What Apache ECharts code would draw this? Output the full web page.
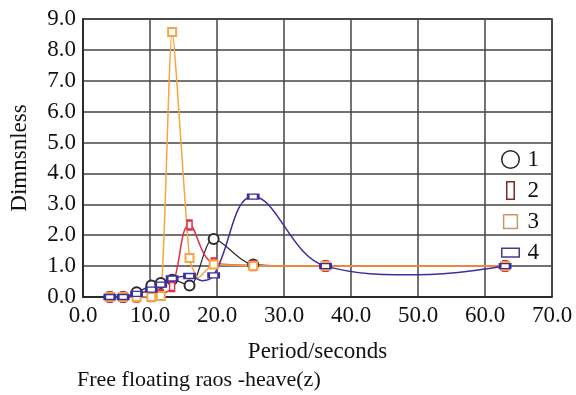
<!DOCTYPE html>
<html>
<head>
<meta charset="utf-8">
<script src="https://cdn.jsdelivr.net/npm/echarts@6/dist/echarts.min.js"></script>
<style>
    html, body { margin: 0; padding: 0; background: #fff; }
    #chart { width: 576px; height: 395px; }
</style>
</head>
<body>
<div id="chart"></div>
<script>
// periods (s) where the RAOs were sampled
const periods = [4.0, 6.0, 8.0, 10.2, 11.6, 13.3, 15.9, 19.5, 25.4, 36.2, 63.0];

// heave RAO per case
const rao1 = [0.0, 0.0, 0.15, 0.37, 0.45, 0.56, 0.37, 1.88, 1.05, 1.00, 1.00];
const rao2 = [0.0, 0.0, 0.0, 0.02, 0.07, 0.34, 2.33, 1.10, 1.02, 1.00, 1.00];
const rao3 = [0.0, 0.0, 0.0, 0.0, 0.03, 8.58, 1.26, 1.05, 1.00, 1.00, 1.00];
const rao4 = [0.0, 0.0, 0.10, 0.24, 0.40, 0.60, 0.68, 0.70, 3.25, 1.00, 1.00];

// extra points (dips between markers), no marker
const rao3Curve = [[17.2, 0.62]];
const rao4Curve = [[17.8, 0.53], [50.0, 0.72]];

const legendNames = ['1', '2', '3', '4'];
const xTicks = [0, 10, 20, 30, 40, 50, 60, 70];
const yTicks = [0, 1, 2, 3, 4, 5, 6, 7, 8, 9];

const FONT = "'Liberation Serif', 'Times New Roman', serif";
const colors = ['#2b2b2b', '#e0304a', '#f6a544', '#3b2f9e'];
const legendBorder = ['#222', '#7a2a2a', '#c89a6a', '#4a3a8e'];
// legend symbols are stretched into a 16x16 box, so every path spans that box
const BOX = 'M0,0 L0,0 M16,16 L16,16 ';
const legendIcons = [
    'path://' + BOX + 'M1,8 A7,7 0 1 1 15,8 A7,7 0 1 1 1,8 Z',
    'path://' + BOX + 'M5,1 L11,1 L11,15 L5,15 Z',
    'path://' + BOX + 'M2.5,2.5 L13.5,2.5 L13.5,13.5 L2.5,13.5 Z',
    'path://' + BOX + 'M1,4.5 L15,4.5 L15,11.5 L1,11.5 Z',
];

const toData = (vals, extra) => {
    const pts = periods.map((p, i) => ({ value: [p, vals[i]] }));
    (extra || []).forEach(e => pts.push({ value: e, symbol: 'none' }));
    return pts.sort((a, b) => a.value[0] - b.value[0]);
};

const chart = echarts.init(document.getElementById('chart'), null, { renderer: 'canvas' });

const option = {
    backgroundColor: '#fff',
    animation: false,
    textStyle: { fontFamily: FONT },
    title: {
        text: 'Free floating raos -heave(z)',
        left: 77,
        top: 369,
        padding: 0,
        textStyle: { fontFamily: FONT, fontSize: 22, fontWeight: 'normal', color: '#111' },
    },
    grid: {
        left: 83, right: 24, top: 19, bottom: 98,
        outerBoundsMode: 'none',
        containLabel: false,
        show: true, borderColor: '#222', borderWidth: 1.5, backgroundColor: '#fff',
    },
    legend: {
        orient: 'vertical',
        right: 32,
        top: 143,
        itemGap: 8,
        itemWidth: 24,
        itemHeight: 20,
        textStyle: { fontFamily: FONT, fontSize: 23, color: '#111' },
        data: legendNames.map((n, i) => ({
            name: n,
            icon: legendIcons[i],
            itemStyle: { color: 'rgba(255,255,255,0)', borderColor: legendBorder[i], borderWidth: 1.5 },
            lineStyle: { width: 0, opacity: 0 },
        })),
    },
    xAxis: {
        type: 'value',
        min: xTicks[0],
        max: xTicks[xTicks.length - 1],
        interval: 10,
        name: 'Period/seconds',
        nameLocation: 'middle',
        nameGap: 43,
        nameTextStyle: { fontFamily: FONT, fontSize: 23, color: '#111' },
        axisLine: { lineStyle: { color: '#222', width: 1.5 } },
        axisTick: { show: false },
        axisLabel: {
            fontFamily: FONT, fontSize: 23, color: '#111', margin: 7,
            formatter: v => v.toFixed(1),
        },
        splitLine: { lineStyle: { color: '#444', width: 1.5 } },
    },
    yAxis: {
        type: 'value',
        min: yTicks[0],
        max: yTicks[yTicks.length - 1],
        interval: 1,
        name: 'Dimnsnless',
        nameLocation: 'middle',
        nameGap: 52,
        nameTextStyle: { fontFamily: FONT, fontSize: 23, color: '#111' },
        axisLine: { lineStyle: { color: '#222', width: 1.5 } },
        axisTick: { show: false },
        axisLabel: {
            fontFamily: FONT, fontSize: 23, color: '#111', margin: 7,
            formatter: v => v.toFixed(1),
        },
        splitLine: { lineStyle: { color: '#444', width: 1.5 } },
    },
    series: [
        {
            name: '1', type: 'line', data: toData(rao1), smooth: 0.3,
            symbol: 'emptyCircle', symbolSize: 10,
            lineStyle: { color: colors[0], width: 1.2 },
            itemStyle: { color: colors[0], borderWidth: 1.2 },
        },
        {
            name: '2', type: 'line', data: toData(rao2), smooth: 0.4,
            symbol: 'emptyRect', symbolSize: [5, 9],
            lineStyle: { color: colors[1], width: 1.5 },
            itemStyle: { color: colors[1], borderWidth: 1.2 },
        },
        {
            name: '3', type: 'line', data: toData(rao3, rao3Curve), smooth: 0.2,
            symbol: 'emptyRect', symbolSize: 8,
            lineStyle: { color: colors[2], width: 1.5 },
            itemStyle: { color: colors[2], borderWidth: 1.2 },
        },
        {
            name: '4', type: 'line', data: toData(rao4, rao4Curve), smooth: 0.4,
            symbol: 'emptyRect', symbolSize: [10, 5],
            lineStyle: { color: colors[3], width: 1.5 },
            itemStyle: { color: colors[3], borderWidth: 1.2 },
        },
    ],
};

chart.setOption(option);
</script>
</body>
</html>
